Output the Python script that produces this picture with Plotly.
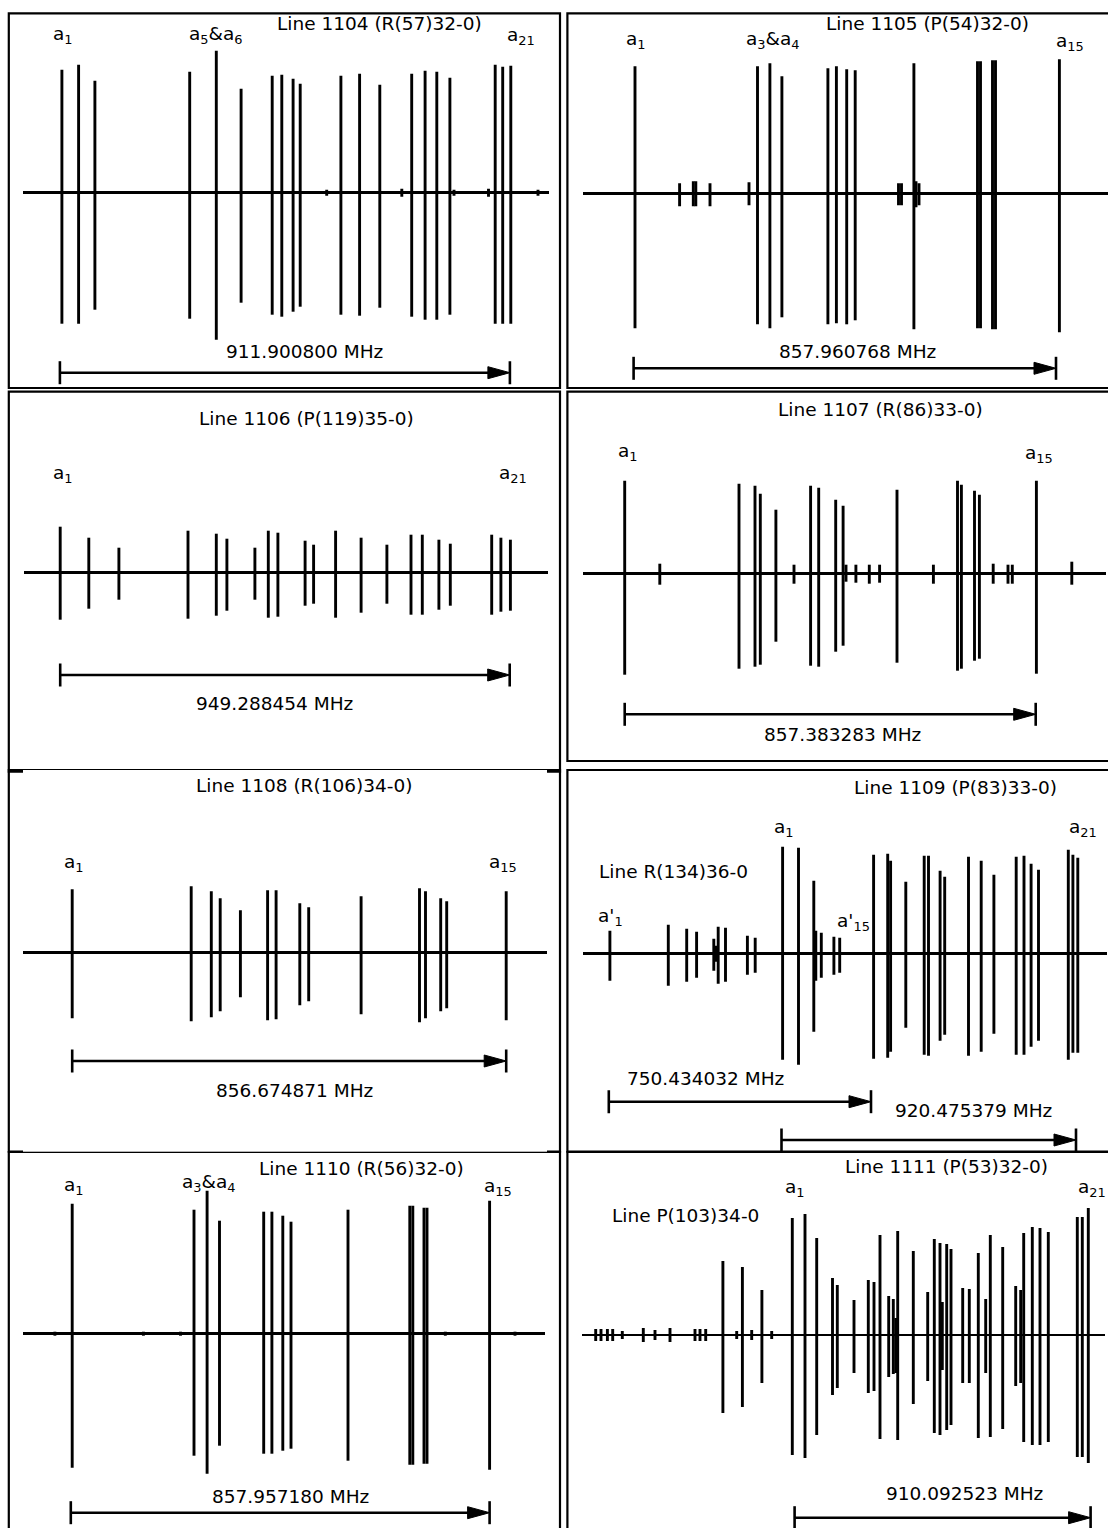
import plotly.graph_objects as go

W, H = 1108, 1528
FONT = "DejaVu Sans"

# ---------------- data ----------------
# pos: frequency offset of each hyperfine component from component a1 (relative units)
# up / dn: amplitude of the upper / lower lobe of each derivative-shaped line
pos_1104 = [0, 16.7, 33.0, 127.8, 154.4, 179.2, 210.3, 219.9, 231.2, 238.3, 279.0, 297.7, 317.9,
            349.8, 363.2, 374.9, 388.0, 433.3, 440.8, 448.9, 264.8, 339.9, 392.1, 426.6, 476.1]
up_1104 = [123, 128, 112, 121, 142, 104, 117, 118, 114, 109, 117, 119, 108, 119, 122, 121, 115,
           128, 126, 127, 3, 4, 3, 4, 3]
dn_1104 = [131, 131, 117, 126, 147, 110, 122, 124, 119, 114, 122, 123, 115, 124, 127, 127, 122,
           131, 131, 131, 3, 4, 3, 4, 3]
span_1104 = [-2, 448]

pos_1105 = [0, 44.6, 58.3, 60.8, 75, 114, 122.5, 134.9, 146.9, 192.9, 201.4, 211.7, 220.2,
            263.5, 266.5, 278.9, 281, 284, 342.5, 345.5, 357.5, 360.5, 424.4]
up_1105 = [127, 10, 12, 12, 10, 11, 127, 130, 117, 125, 127, 124, 123, 10, 10, 130, 12, 10,
           132, 132, 133, 133, 134]
dn_1105 = [135, 13, 13, 13, 13, 12, 131, 135, 124, 131, 130, 131, 127, 12, 12, 136, 14, 12,
           135, 135, 136, 136, 139]
span_1105 = [-1.4, 421]

pos_1106 = [0, 28.6, 58.7, 127.8, 156.1, 166.7, 194.7, 208.1, 217.7, 244.9, 253.4, 275.4, 300.9,
            326.7, 350.8, 362.1, 378.7, 390.1, 431.5, 440.7, 450.2]
up_1106 = [46, 35, 25, 42, 39, 34, 25, 42, 40, 32, 28, 42, 35, 28, 38, 38, 33, 29, 38, 35, 33]
dn_1106 = [47, 36, 27, 46, 43, 38, 27, 45, 44, 33, 31, 45, 40, 31, 42, 42, 37, 33, 42, 39, 38]
span_1106 = [0, 449.5]

pos_1107 = [0, 114.3, 130.3, 135.6, 151.2, 185.9, 194, 211, 218.4, 272.3, 332.8, 336.7, 349.8,
            354.7, 411.7, 35.1, 169.3, 221.3, 231.2, 244.6, 254.9, 308.7, 368.5, 383.3, 387.6, 447.1]
up_1107 = [93, 90, 88, 80, 64, 88, 86, 74, 68, 84, 93, 89, 83, 79, 93,
           10, 9, 9, 9, 9, 9, 9, 10, 9, 9, 12]
dn_1107 = [101, 95, 93, 91, 68, 92, 93, 78, 72, 89, 97, 95, 87, 85, 100,
           11, 10, 8, 9, 10, 9, 10, 10, 10, 10, 11]
span_1107 = [0, 411]

pos_1108 = [0, 119, 139.1, 148, 168.2, 195.4, 203.9, 227.6, 236.5, 288.9, 347.3, 353.3, 368.5,
            374.5, 434]
up_1108 = [63, 66, 61, 54, 42, 62, 62, 49, 45, 56, 64, 61, 54, 51, 61]
dn_1108 = [66, 69, 65, 59, 45, 68, 67, 53, 49, 62, 70, 66, 59, 56, 68]
span_1108 = [0, 434]

pos_1109 = [0, 15.9, 31.2, 91, 105.1, 108, 123.2, 141.6, 145.9, 157.5, 162.1, 185.9, 198.6,
            211.3, 233.6, 241.4, 248.5, 255.9, 285.7, 290.3, 295.2]
up_1109 = [107, 106, 73, 99, 100, 93, 72, 98, 98, 83, 77, 97, 93, 79, 97, 98, 90, 84, 104, 99, 96]
dn_1109 = [106, 111, 78, 105, 104, 98, 74, 101, 102, 87, 81, 102, 98, 80, 101, 101, 93, 87, 106, 99, 99]
span_1109 = [-1.1, 293.4]

pos_1109p = [-172.7, -114.3, -95.9, -86, -68.8, -66.6, -64.4, -57.1, -35.2, -27.4, 33.2, 38.7,
             51.3, 57.1]
up_1109p = [23, 29, 25, 22, 15, 8, 27, 26, 18, 16, 23, 21, 17, 16]
dn_1109p = [27, 32, 28, 24, 17, 8, 30, 28, 21, 19, 27, 24, 21, 19]
span_1109p = [-173.8, 88.4]

pos_1110 = [0, 121.8, 134.9, 147.3, 191.5, 199.7, 210.6, 218.8, 275.8, 337.6, 340.6, 351.8,
            354.8, 417.4, -17.3, 71.2, 108.3, 373.1, 442.8]
up_1110 = [130, 124, 143, 113, 122, 122, 118, 112, 124, 128, 128, 126, 126, 133, 2, 2, 2, 2, 2]
dn_1110 = [134, 122, 140, 112, 120, 120, 117, 115, 127, 131, 131, 130, 130, 136, 2, 2, 2, 2, 2]
span_1110 = [-1.4, 417.4]

pos_1111 = [-196.6, -191.3, -184.9, -179.6, -170, -149, -137.3, -122.3, -97.3, -92.3, -86.6,
            -55.6, -40.6, -20.6, -69.4, -49.9, -30.4,
            0, 12.7, 24.4, 40.2, 45, 61.7, 76, 81.7, 87.7, 96.4, 101, 103.5, 105.4, 121, 135.4,
            142, 147.7, 150, 154.4, 158.7, 170.4, 177, 186, 193.4, 198, 210.4, 223.4, 228.4,
            231.4, 240, 247.7, 256, 285, 290, 296]
up_1111 = [6, 6, 6, 6, 4, 7, 5, 7, 6, 6, 6, 4, 5, 4, 74, 68, 45,
           117, 121, 97, 57, 50, 35, 55, 53, 100, 39, 36, 17, 104, 84, 43, 96, 92, 33, 91, 86,
           47, 46, 82, 36, 100, 88, 49, 45, 102, 108, 107, 103, 118, 118, 127]
dn_1111 = [6, 6, 6, 6, 4, 7, 5, 7, 6, 6, 6, 4, 5, 4, 78, 72, 48,
           120, 123, 100, 60, 53, 38, 58, 56, 104, 42, 39, 38, 105, 69, 46, 98, 100, 35, 95, 90,
           48, 48, 103, 38, 102, 94, 51, 48, 107, 110, 110, 107, 122, 122, 128]
span_1111 = [2.3, 298.3]

spectra = {
    "1104": dict(series=[(pos_1104, up_1104, dn_1104)], spans=[span_1104]),
    "1105": dict(series=[(pos_1105, up_1105, dn_1105)], spans=[span_1105]),
    "1106": dict(series=[(pos_1106, up_1106, dn_1106)], spans=[span_1106]),
    "1107": dict(series=[(pos_1107, up_1107, dn_1107)], spans=[span_1107]),
    "1108": dict(series=[(pos_1108, up_1108, dn_1108)], spans=[span_1108]),
    "1109": dict(series=[(pos_1109p, up_1109p, dn_1109p), (pos_1109, up_1109, dn_1109)],
                 spans=[span_1109p, span_1109]),
    "1110": dict(series=[(pos_1110, up_1110, dn_1110)], spans=[span_1110]),
    "1111": dict(series=[(pos_1111, up_1111, dn_1111)], spans=[span_1111]),
}

# ---------------- layout (pixel positions) ----------------
LX = (8.8, 560)
RX = (567.4, 1112)
LAYOUT = {
    "1104": dict(a1px=61.9, base=(23, 548.7, 192.7), box=(LX[0], 13.3, LX[1], 388), arrow_y=[372.7],
                 texts=[("Line 1104 (R(57)32-0)", 379.6, 24), ("a<sub>1</sub>", 63, 35),
                        ("a<sub>5</sub>&amp;a<sub>6</sub>", 216, 35), ("a<sub>21</sub>", 521, 36),
                        ("911.900800 MHz", 304.4, 351.7)]),
    "1105": dict(a1px=635, base=(583, 1108, 193.3), box=(RX[0], 13.3, RX[1], 388), arrow_y=[368.3],
                 texts=[("Line 1105 (P(54)32-0)", 927.5, 24), ("a<sub>1</sub>", 635.5, 40),
                        ("a<sub>3</sub>&amp;a<sub>4</sub>", 773, 40), ("a<sub>15</sub>", 1070, 42),
                        ("857.960768 MHz", 857, 351.7)]),
    "1106": dict(a1px=60.2, base=(24, 548, 572.7), box=(LX[0], 391.7, LX[1], 771.7), arrow_y=[675],
                 texts=[("Line 1106 (P(119)35-0)", 306, 418), ("a<sub>1</sub>", 63, 474),
                        ("a<sub>21</sub>", 513, 474), ("949.288454 MHz", 274, 703)]),
    "1107": dict(a1px=624.7, base=(583, 1106, 573.7), box=(RX[0], 391.7, RX[1], 761), arrow_y=[714.3],
                 texts=[("Line 1107 (R(86)33-0)", 880.5, 410), ("a<sub>1</sub>", 628, 452),
                        ("a<sub>15</sub>", 1039, 454), ("857.383283 MHz", 842.5, 735)]),
    "1108": dict(a1px=72.2, base=(23, 547, 952.3), box=(LX[0], 770, LX[1], 1151.7), arrow_y=[1061],
                 texts=[("Line 1108 (R(106)34-0)", 303.5, 785), ("a<sub>1</sub>", 73.5, 863),
                        ("a<sub>15</sub>", 502.6, 863), ("856.674871 MHz", 294.6, 1090)]),
    "1109": dict(a1px=782.6, base=(582.6, 1106.5, 953.7), box=(RX[0], 770, RX[1], 1151.7),
                 arrow_y=[1101.7, 1140],
                 texts=[("Line 1109 (P(83)33-0)", 955.5, 788), ("a<sub>1</sub>", 784, 828),
                        ("a<sub>21</sub>", 1082.6, 828), ("Line R(134)36-0", 673.6, 871),
                        ("a'<sub>1</sub>", 610.5, 917), ("a'<sub>15</sub>", 853, 922),
                        ("750.434032 MHz", 705.5, 1078.5), ("920.475379 MHz", 973.5, 1110)]),
    "1110": dict(a1px=72.2, base=(23, 545, 1333.7), box=(LX[0], 1152, LX[1], 1532), arrow_y=[1512.7],
                 texts=[("Line 1110 (R(56)32-0)", 361, 1168), ("a<sub>1</sub>", 74, 1186),
                        ("a<sub>3</sub>&amp;a<sub>4</sub>", 209, 1183), ("a<sub>15</sub>", 498, 1187),
                        ("857.957180 MHz", 290, 1496)]),
    "1111": dict(a1px=792.3, base=(581.5, 1105, 1335), box=(RX[0], 1152, RX[1], 1532), arrow_y=[1517.7],
                 texts=[("Line 1111 (P(53)32-0)", 946, 1166), ("a<sub>1</sub>", 795, 1188),
                        ("a<sub>21</sub>", 1092, 1188), ("Line P(103)34-0", 685.8, 1215),
                        ("910.092523 MHz", 964.5, 1493)]),
}
ORDER = ["1104", "1105", "1106", "1107", "1108", "1109", "1110", "1111"]

LW = 2.9
FS = 18.5
fig = go.Figure()
shapes, annotations = [], []
axes = {}


def py2paper(py):
    return 1 - py / H


for i, key in enumerate(ORDER, start=1):
    sfx = "" if i == 1 else str(i)
    L, D = LAYOUT[key], spectra[key]
    xs, xe, by = L["base"]
    bx0, btop, bx1, bbot = L["box"]
    a1 = L["a1px"]
    ytop, ybot = btop, min(bbot, H)
    axes[f"xaxis{sfx}"] = dict(domain=[xs / W, xe / W], range=[xs - a1, xe - a1], visible=False,
                               anchor=f"y{sfx}", fixedrange=True)
    axes[f"yaxis{sfx}"] = dict(domain=[py2paper(ybot), py2paper(ytop)], range=[-(ybot - by), by - ytop],
                               showticklabels=False, showgrid=False, showline=False, ticks="",
                               zeroline=True, zerolinecolor="black", zerolinewidth=2.7,
                               anchor=f"x{sfx}", fixedrange=True)
    for pos, up, dn in D["series"]:
        x, y = [], []
        for p, u, d in zip(pos, up, dn):
            x += [p, p, None]
            y += [u, -d, None]
        fig.add_trace(go.Scatter(x=x, y=y, mode="lines", line=dict(color="black", width=LW),
                                 xaxis=f"x{sfx}", yaxis=f"y{sfx}", hoverinfo="skip", showlegend=False))
    xr = f"x{sfx}"
    for (s, e), ay in zip(D["spans"], L["arrow_y"]):
        yy = py2paper(ay)
        shapes.append(dict(type="line", xref=xr, yref="paper", x0=s, x1=e - 10, y0=yy, y1=yy,
                           line=dict(color="black", width=2.6)))
        for xx in (s, e):
            shapes.append(dict(type="line", xref=xr, yref="paper", x0=xx, x1=xx,
                               y0=py2paper(ay - 11.5), y1=py2paper(ay + 11.5),
                               line=dict(color="black", width=2.6)))
        shapes.append(dict(type="path", xref=xr, yref="paper",
                           path=f"M {e},{yy} L {e - 22},{py2paper(ay - 6)} L {e - 22},{py2paper(ay + 6)} Z",
                           fillcolor="black", line=dict(color="black", width=1)))
    shapes.append(dict(type="rect", xref="paper", yref="paper", x0=bx0 / W, x1=bx1 / W,
                       y0=py2paper(bbot), y1=py2paper(btop), line=dict(color="black", width=2.2),
                       fillcolor="rgba(0,0,0,0)", layer="below"))
    for t, tx, ty in L["texts"]:
        annotations.append(dict(text=t, x=tx / W, y=py2paper(ty), xref="paper", yref="paper",
                                showarrow=False, xanchor="center", yanchor="middle",
                                font=dict(family=FONT, size=FS, color="black")))

fig.update_layout(width=W, height=H, margin=dict(l=0, r=0, t=0, b=0), paper_bgcolor="white",
                  plot_bgcolor="white", showlegend=False, shapes=shapes, annotations=annotations,
                  **axes)
fig.write_html("out.html", config={"displayModeBar": False, "staticPlot": True},
               post_script="document.body.style.margin='0px';document.body.style.padding='0px';"
                           "document.body.style.overflow='hidden';")
